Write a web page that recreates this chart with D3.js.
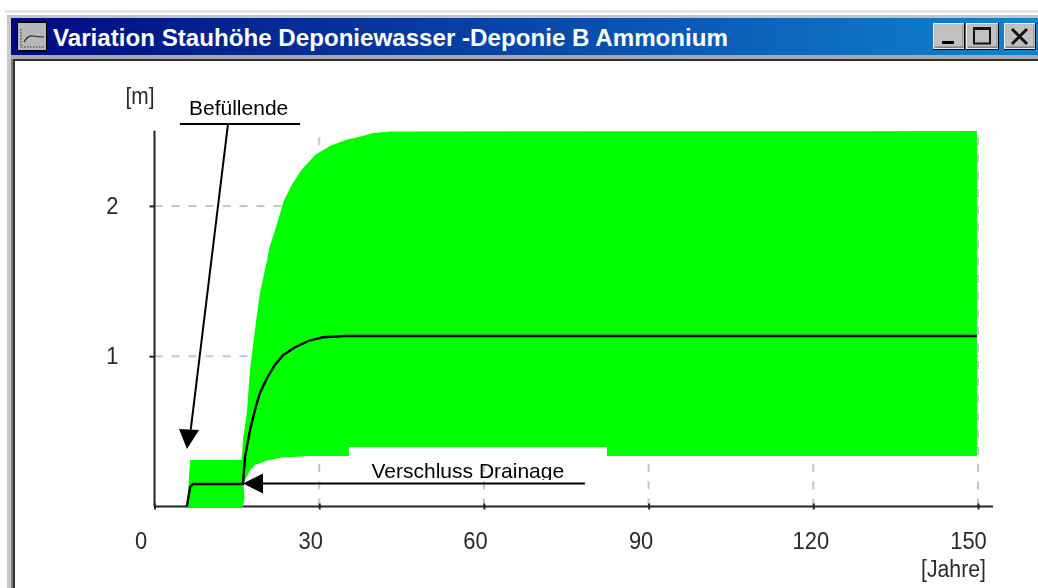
<!DOCTYPE html>
<html><head><meta charset="utf-8">
<script src="https://cdn.jsdelivr.net/npm/d3@7/dist/d3.min.js"></script>
<style>
html,body{margin:0;padding:0;background:#fff;overflow:hidden}
svg{display:block;filter:blur(0.45px)}
text{font-family:"Liberation Sans",Arial,sans-serif}
</style></head><body>
<svg id="c" width="1038" height="588"></svg>
<script>
const titleText = "Variation Stauhöhe Deponiewasser -Deponie B Ammonium";
const xTicks = [0, 30, 60, 90, 120, 150];
const yTicks = [1, 2];
const xTickNudge = [-14, -9, -9, -8, -3, -10];
const upperYears = [5.9,6.5,15.9,16.1,16.8,17.0,17.4,17.9,18.6,19.2,20.1,21.0,22.3,23.5,25.0,26.8,29.3,32.0,35.0,37.4,39.8,42.9,149.8];
const upperValues = [-0.005,0.31,0.31,0.44,0.62,0.71,0.91,1.06,1.26,1.42,1.57,1.73,1.88,2.03,2.14,2.24,2.34,2.40,2.44,2.46,2.485,2.495,2.498];
const lowerYears = [16.1,16.4,16.2,17.4,18.3,20.4,22.9,28.3,35.2,149.8];
const lowerValues = [-0.005,0.06,0.153,0.24,0.276,0.305,0.325,0.336,0.336,0.336];
const meanYears = [5.9,6.5,7.0,16.1,16.5,17.4,18.3,19.2,20.5,21.9,23.4,25.6,28.3,30.7,34.7,149.8];
const meanValues = [0,0.13,0.15,0.15,0.332,0.509,0.642,0.755,0.855,0.94,1.007,1.06,1.106,1.126,1.134,1.134];

const W = 1038, H = 588;
const svg = d3.select("#c");
const x = d3.scaleLinear().domain([0,150]).range([154.5,978]);
const y = d3.scaleLinear().domain([0,2.5]).range([506.5,130.75]);
const line = d3.line().x(d=>x(d[0])).y(d=>y(d[1]));

/* ---------- window chrome ---------- */
const defs = svg.append("defs");
const grad = defs.append("linearGradient").attr("id","tb");
grad.append("stop").attr("offset","0").attr("stop-color","#000a80");
grad.append("stop").attr("offset","1").attr("stop-color","#1084d0");
defs.append("clipPath").attr("id","vclip").append("rect").attr("x",340).attr("y",440).attr("width",280).attr("height",40);

const rect=(a,b,w,h,f)=>svg.append("rect").attr("x",a).attr("y",b).attr("width",w).attr("height",h).attr("fill",f);
rect(5,10,W-5,3,"#e8e8e8");
rect(7,15,W-7,3,"#c4c4c4");
rect(7,18,4,H-18,"#c8c8c8");
rect(11,18,2,H-18,"#808080");
rect(13,18,2,H-18,"#303030");
rect(11,18,W-11,37,"url(#tb)");
rect(11,55,W-11,4,"#a8a8a8");
rect(13,59,W-13,2,"#303030");

// title icon
rect(17,21,30,31,"#000");
rect(18,23,28,27,"#b8b8b8");
svg.append("path").attr("d","M21 29V47H44").attr("fill","none").attr("stroke","#333").attr("stroke-dasharray","1.5 1.5");
svg.append("path").attr("d","M24 42Q28 35 33 36T44 37").attr("fill","none").attr("stroke","#222").attr("stroke-width",1.2);

svg.append("text").attr("x",53).attr("y",45.5).attr("fill","#fff").attr("font-weight","bold")
  .attr("font-size",24).attr("textLength",675).attr("lengthAdjust","spacingAndGlyphs").text(titleText);

// window buttons
function btn(a,w){
  rect(a,23,w,27,"#000");
  rect(a,23,w-1,26,"#f0f0f0");
  rect(a+1.5,24.5,w-3,23.5,"#808080");
  rect(a+1.5,24.5,w-4,22,"#c0c0c0");
}
btn(933,32);btn(966,33);btn(1004,32);
rect(942,41,12,3,"#000");
svg.append("rect").attr("x",974).attr("y",28.5).attr("width",16).attr("height",15).attr("fill","none").attr("stroke","#111").attr("stroke-width",2);
rect(973,27,18,3,"#111");
svg.append("path").attr("d","M1012 29L1027 44M1027 29L1012 44").attr("stroke","#111").attr("stroke-width",3).attr("fill","none");

/* ---------- grid ---------- */
const grid = svg.append("g").attr("stroke","#c6c6c6").attr("stroke-width",2).attr("fill","none");
grid.selectAll("path.v").data(xTicks.slice(1)).join("path").attr("class","v")
  .attr("d",d=>line([[d,0],[d,2.5]])).attr("stroke-dasharray","8 9.2");
grid.selectAll("path.h").data(yTicks).join("path").attr("class","h")
  .attr("d",d=>line([[0,d],[151.5,d]])).attr("stroke-dasharray","8 9");

/* ---------- axes (beneath the band, which hides the baseline) ---------- */
const xAxis = svg.append("g").attr("transform","translate(0,506.5)")
  .call(d3.axisBottom(x).tickValues(xTicks).tickSize(3).tickPadding(22).tickSizeOuter(0));
xAxis.select(".domain").attr("d","M154.5 0H993");
const yAxis = svg.append("g").attr("transform","translate(154.5,0)")
  .call(d3.axisLeft(y).tickValues(yTicks).tickSize(5).tickPadding(31).tickFormat(d3.format("d")).tickSizeOuter(0));
svg.selectAll(".domain").attr("stroke","#222").attr("stroke-width",2);
svg.selectAll(".tick line").attr("stroke","#222").attr("stroke-width",2);
xAxis.selectAll(".tick text").attr("dx",(d,i)=>xTickNudge[i]).attr("y",null).attr("dy",null)
  .attr("transform","translate(0,42.5)");
svg.selectAll(".tick text").attr("font-family",'"Liberation Sans",Arial,sans-serif').attr("font-size",24).attr("fill","#2a2a2a");
xAxis.selectAll(".tick line").attr("y1",-3);
xAxis.selectAll(".tick text").attr("text-anchor","middle");
yAxis.selectAll(".tick text").attr("dy","0.32em");
svg.selectAll(".tick text").each(function(d){
  const n=String(d).length; d3.select(this).attr("textLength",n*12.2).attr("lengthAdjust","spacingAndGlyphs");
});
yAxis.select(".domain").attr("d",`M0 ${y(2.5)}V506.5`);

/* ---------- band ---------- */
const upper = upperYears.map((t,i)=>[t,upperValues[i]]);
const lower = lowerYears.map((t,i)=>[t,lowerValues[i]]).reverse();
svg.append("path").attr("fill","#00ff00").attr("d",line(upper.concat(lower))+"Z");

// the label's white box that cuts into the band
const boxYears=[35.4,82.4], boxValues=[0.336,0.396];
rect(x(boxYears[0]),y(boxValues[1]),x(boxYears[1])-x(boxYears[0]),y(boxValues[0])-y(boxValues[1]),"#fff");

/* ---------- mean line ---------- */
svg.append("path").attr("fill","none").attr("stroke","#000").attr("stroke-width",2.4)
  .attr("d",line(meanYears.map((t,i)=>[t,meanValues[i]])));

svg.append("text").attr("x",140).attr("y",104).attr("text-anchor","middle").attr("font-size",24).attr("fill","#2a2a2a")
  .attr("textLength",29).attr("lengthAdjust","spacingAndGlyphs").text("[m]");
svg.append("text").attr("x",986).attr("y",577).attr("text-anchor","end").attr("font-size",23).attr("fill","#2a2a2a")
  .attr("textLength",65).attr("lengthAdjust","spacingAndGlyphs").text("[Jahre]");

/* ---------- annotations ---------- */
const ann = svg.append("g").attr("stroke","#000").attr("stroke-width",2).attr("fill","none");
const fillLabelLine=[[4.64,2.545],[26.5,2.545]];
const fillLeader=[[13.39,2.545],[6.6,0.512]];
const fillTip=[5.92,0.383];
const closeShaft=[[78.4,0.153],[18,0.153]];
const closeTip=[16.12,0.153];
ann.append("path").attr("d",line(fillLabelLine));
ann.append("path").attr("d",line(fillLeader));
ann.append("path").attr("d",line(closeShaft));
svg.append("path").attr("fill","#000").attr("transform",`translate(${x(fillTip[0])},${y(fillTip[1])})`).attr("d","M0 0L-8 -20L12 -19Z");
svg.append("path").attr("fill","#000").attr("transform",`translate(${x(closeTip[0])},${y(closeTip[1])})`).attr("d","M0 0L20 -10V10Z");
svg.append("text").attr("x",189).attr("y",115).attr("font-size",21).attr("fill","#000").text("Befüllende");
svg.append("text").attr("x",371.5).attr("y",478).attr("font-size",21).attr("fill","#000").attr("clip-path","url(#vclip)").text("Verschluss Drainage");
</script>
</body></html>
